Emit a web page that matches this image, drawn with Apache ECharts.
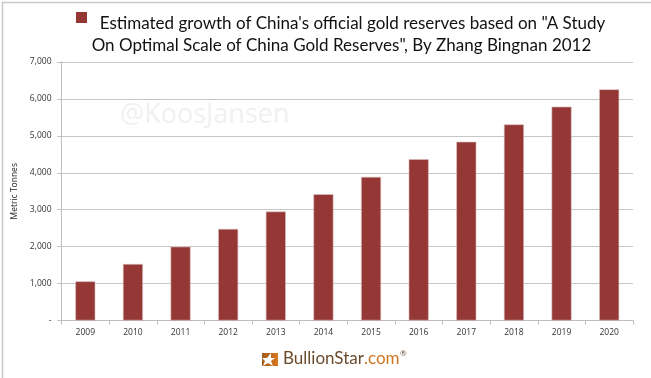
<!DOCTYPE html>
<html><head><meta charset="utf-8">
<style>html,body{margin:0;padding:0;background:#fff}#c{width:651px;height:378px}</style>
<script src="https://cdn.jsdelivr.net/npm/echarts@6/dist/echarts.min.js"></script>
</head><body><div id="c"></div>
<script>
const years = ['2009','2010','2011','2012','2013','2014','2015','2016','2017','2018','2019','2020'];
const reserves = [1060,1530,2000,2480,2950,3420,3890,4370,4840,5310,5790,6260];
const titleLine1 = 'Estimated growth of China\'s official gold reserves based on "A Study';
const titleLine2 = 'On Optimal Scale of China Gold Reserves", By Zhang Bingnan 2012';
const seriesName = titleLine1 + ' ' + titleLine2;
const chart = echarts.init(document.getElementById('c'), null, {renderer:'canvas'});
const titleStyle = {fontFamily:'Lato',fontSize:17,fontWeight:'normal',color:'#111'};
chart.setOption({
  animation:false,
  backgroundColor:'#fff',
  title:[
    {text:titleLine1,left:347.5,top:10.5,textAlign:'center',textStyle:titleStyle},
    {text:titleLine2,left:336.5,top:32,textAlign:'center',textStyle:titleStyle}
  ],
  legend:{show:true,left:76,top:12,padding:0,itemWidth:11,itemHeight:11,formatter:()=>'',selectedMode:false,
    itemStyle:{borderWidth:0},
    data:[{name:seriesName,icon:'rect'}]},
  grid:{left:61.5,right:18,top:62,bottom:57.5},
  xAxis:{type:'category',data:years,
    axisLine:{lineStyle:{color:'#bdbdbd'}},
    axisTick:{show:true,lineStyle:{color:'#bdbdbd'},length:4},
    axisLabel:{fontFamily:'Open Sans',fontSize:8.5,color:'#333',margin:8}},
  yAxis:{type:'value',min:0,max:7000,interval:1000,
    name:'Metric Tonnes',nameLocation:'middle',nameGap:41,nameRotate:90,
    nameTextStyle:{fontFamily:'Open Sans',fontSize:8.5,color:'#222'},
    axisLine:{show:true,lineStyle:{color:'#bdbdbd'}},
    axisTick:{show:true,length:4,lineStyle:{color:'#bdbdbd'}},
    axisLabel:{fontFamily:'Open Sans',fontSize:8.5,color:'#333',margin:10,
      formatter:v=>v===0?'-':v.toLocaleString('en-US')},
    splitLine:{lineStyle:{color:'#c6c6c6'}}},
  series:[{type:'bar',name:seriesName,data:reserves,barWidth:20,
    itemStyle:{color:'#953735',borderColor:'#d8bdbc',borderWidth:0.6}}],
  graphic:[
    {type:'text',left:120,top:102,silent:true,z:0,style:{text:'@KoosJansen',fontFamily:'Open Sans',fontSize:27,fill:'#f0f0f0'}},
    {type:'rect',left:262,top:353,shape:{width:16,height:13},style:{fill:{type:'linear',x:0,y:0,x2:1,y2:0,colorStops:[{offset:0,color:'#a35c1c'},{offset:1,color:'#d97a1e'}]}}},
    {type:'polygon',shape:{points:[[271,353],[271,358],[275,358],[271,361],[273,366],[268,363],[263,366],[265,361],[262,358],[267,358]]},style:{fill:'#fff'}},
    {type:'text',left:283,top:350,style:{text:'BullionStar',fontFamily:'Lato',fontSize:17,fill:'#6b4a2c'}},
    {type:'text',left:364,top:350,style:{text:'.com',fontFamily:'Lato',fontSize:17,fill:'#d0741f'}},
    {type:'text',left:400,top:349,style:{text:'®',fontFamily:'Lato',fontSize:8,fill:'#6b4a2c'}},
    {type:'rect',left:0,top:0,silent:true,shape:{width:650,height:377},style:{fill:'none',stroke:'#c8c8c8',lineWidth:1.5}}
  ]
});
</script></body></html>
